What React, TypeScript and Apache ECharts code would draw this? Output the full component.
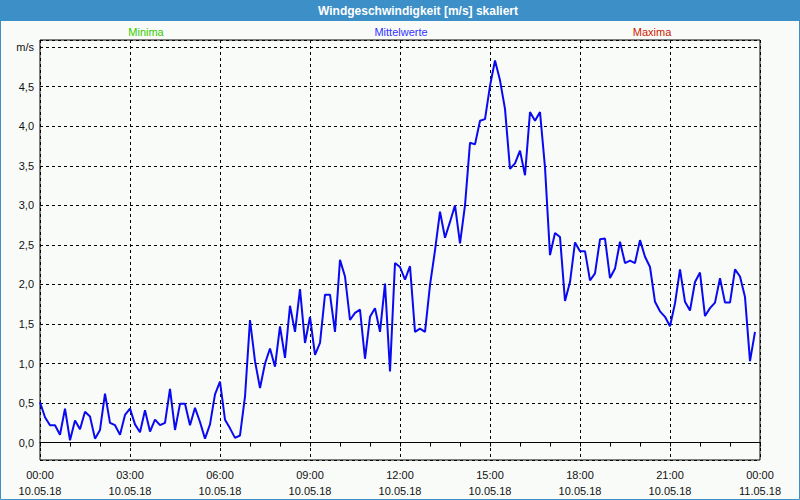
import React, { useEffect, useRef } from "react";
import * as echarts from "echarts";

const titleText = "Windgeschwindigkeit [m/s] skaliert";
const legendLabels = ["Minima", "Mittelwerte", "Maxima"];
const legendColors = ["#33cc00", "#3333ff", "#cc2200"];

const timeLabels = ["00:00", "03:00", "06:00", "09:00", "12:00", "15:00", "18:00", "21:00", "00:00"];
const dateLabels = ["10.05.18", "10.05.18", "10.05.18", "10.05.18", "10.05.18", "10.05.18", "10.05.18", "10.05.18", "11.05.18"];
const stepMinutes = 10;
const yUnitLabel = "m/s";

// Mittelwerte, 10-minute values from 00:00 to 23:50
const windSpeed = [
  0.51, 0.32, 0.22, 0.22, 0.10, 0.43, 0.03, 0.28, 0.17, 0.39, 0.33, 0.05, 0.16, 0.62, 0.25, 0.22,
  0.10, 0.35, 0.43, 0.23, 0.13, 0.41, 0.14, 0.29, 0.22, 0.25, 0.68, 0.16, 0.49, 0.49, 0.22, 0.44,
  0.26, 0.05, 0.23, 0.61, 0.77, 0.29, 0.18, 0.06, 0.09, 0.58, 1.55, 1.03, 0.69, 1.00, 1.19, 0.96,
  1.47, 1.07, 1.73, 1.40, 1.94, 1.26, 1.59, 1.11, 1.26, 1.87, 1.87, 1.40, 2.31, 2.10, 1.55, 1.64,
  1.68, 1.06, 1.59, 1.70, 1.40, 2.01, 0.90, 2.27, 2.22, 2.06, 2.23, 1.40, 1.44,
  1.40, 1.99, 2.43, 2.92, 2.59, 2.79, 3.00, 2.52, 3.00, 3.79, 3.77, 4.07, 4.09, 4.51, 4.83, 4.58,
  4.22, 3.46, 3.53, 3.69, 3.38, 4.18, 4.07, 4.18, 3.48, 2.37, 2.65, 2.60, 1.79, 2.03, 2.53, 2.42,
  2.42, 2.05, 2.14, 2.57,
  2.58, 2.08, 2.20, 2.54, 2.27, 2.30, 2.27, 2.56, 2.35, 2.22, 1.78, 1.66, 1.59, 1.47, 1.76, 2.19,
  1.78, 1.67, 2.03, 2.15, 1.60, 1.70, 1.77, 2.08, 1.77, 1.77, 2.19, 2.10, 1.84, 1.03, 1.40,
];

const FONT = '"Liberation Sans", Arial, sans-serif';
const BAR = "#3d8fc7";

export default function App() {
  const ref = useRef<HTMLDivElement>(null);
  useEffect(() => {
    if (!ref.current) return;
    const chart = echarts.init(ref.current, null, { renderer: "svg" });
    const data = windSpeed.map((v, i) => [(i * stepMinutes) / 60, v]);
    const legendX = [146, 401, 652];
    chart.setOption({
      animation: false,
      backgroundColor: "#f9fbf9",
      graphic: [
        { type: "rect", shape: { x: 0, y: 0, width: 800, height: 21 }, style: { fill: BAR }, z: 10 },
        { type: "rect", shape: { x: 0.5, y: 0.5, width: 799, height: 499 }, style: { fill: "none", stroke: BAR, lineWidth: 1 }, z: 10 },
        {
          type: "text", x: 418, y: 11, z: 11,
          style: { text: titleText, fill: "#ffffff", font: `bold 12px ${FONT}`, align: "center", verticalAlign: "middle" },
        },
        ...legendLabels.map((t, i) => ({
          type: "text", x: legendX[i], y: 32, z: 11,
          style: { text: t, fill: legendColors[i], font: `11px ${FONT}`, align: "center", verticalAlign: "middle" },
        })),
      ],
      grid: {
        left: 40, right: 40, top: 40, bottom: 40,
        show: true, borderColor: "#000", borderWidth: 1, backgroundColor: "transparent",
      },
      xAxis: {
        type: "value",
        min: 0, max: 24, interval: 3,
        axisLine: { show: true, lineStyle: { color: "#000", width: 1 } },
        axisTick: { show: true, length: 4, lineStyle: { color: "#000" } },
        minorTick: { show: true, splitNumber: 3, length: 4, lineStyle: { color: "#000" } },
        splitLine: { show: true, lineStyle: { color: "#000", type: [3, 3], width: 1 } },
        axisLabel: {
          margin: 7,
          color: "#111",
          fontFamily: FONT,
          fontSize: 11,
          lineHeight: 16,
          formatter: (v: number) => {
            const idx = Math.round(v / 3);
            return `${timeLabels[idx]}\n${dateLabels[idx]}`;
          },
        },
      },
      yAxis: {
        type: "value",
        min: -0.22, max: 5.09,
        splitNumber: 10, minInterval: 0.5, maxInterval: 0.5,
        axisLine: { show: false },
        axisTick: { show: false },
        splitLine: { show: true, lineStyle: { color: "#000", type: [3, 3], width: 1 } },
        axisLabel: {
          margin: 6,
          color: "#111",
          fontFamily: FONT,
          fontSize: 11,
          formatter: (v: number) => {
            const r = Math.round(v * 2) / 2;
            if (Math.abs(v - r) > 1e-6) return "";
            if (Math.abs(r - 5) < 1e-6) return yUnitLabel;
            return Math.abs(r).toFixed(1).replace(".", ",");
          },
        },
      },
      series: [
        {
          name: "Mittelwerte",
          type: "line",
          data,
          showSymbol: false,
          lineStyle: { color: "#0a0af0", width: 2 },
          itemStyle: { color: "#0a0af0" },
          z: 5,
        },
      ],
    });
    return () => chart.dispose();
  }, []);
  return <div ref={ref} style={{ position: "fixed", left: 0, top: 0, width: 800, height: 500 }} />;
}
